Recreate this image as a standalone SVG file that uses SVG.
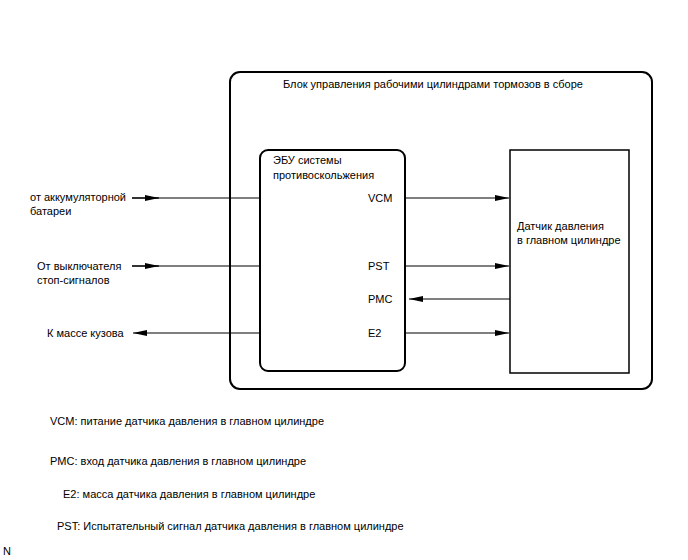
<svg xmlns="http://www.w3.org/2000/svg" width="688" height="560" viewBox="0 0 688 560">
<style>
text{font-family:"Liberation Sans",Arial,sans-serif;font-size:11px;fill:#000}
.box{fill:none;stroke:#000;stroke-width:2}
.ln{fill:none;stroke:#000;stroke-width:1.2}
</style>
<defs>
<marker id="ah" markerWidth="14" markerHeight="8" refX="14" refY="4" orient="auto" markerUnits="userSpaceOnUse">
<path d="M0,1 L14,4 L0,7 Z" fill="#000"/>
</marker>
</defs>
<rect width="688" height="560" fill="#fff"/>
<g id="assembly">
<rect class="box" x="230" y="72" width="422" height="317" rx="10"/>
<text x="283" y="88">Блок управления рабочими цилиндрами тормозов в сборе</text>
</g>
<g id="ecu">
<rect class="box" x="260" y="150" width="145" height="221" rx="8"/>
<text x="273" y="164">ЭБУ системы</text>
<text x="273" y="179">противоскольжения</text>
<text x="368" y="202">VCM</text>
<text x="368" y="270">PST</text>
<text x="368" y="303">PMC</text>
<text x="368" y="337">E2</text>
</g>
<g id="sensor">
<rect x="510" y="150" width="119" height="223" fill="none" stroke="#000" stroke-width="1.5"/>
<text x="517" y="230">Датчик давления</text>
<text x="517" y="244">в главном цилиндре</text>
</g>
<g id="inputs">
<text x="30" y="201">от аккумуляторной</text>
<text x="30" y="215">батареи</text>
<text x="37" y="270">От выключателя</text>
<text x="37" y="284">стоп-сигналов</text>
<text x="47" y="337">К массе кузова</text>
</g>
<g id="connectors">
<line class="ln" x1="132" y1="198" x2="260" y2="198"/>
<line class="ln" x1="132" y1="198" x2="159" y2="198" marker-end="url(#ah)"/>
<line class="ln" x1="132" y1="266" x2="260" y2="266"/>
<line class="ln" x1="132" y1="266" x2="159" y2="266" marker-end="url(#ah)"/>
<line class="ln" x1="260" y1="333" x2="133" y2="333" marker-end="url(#ah)"/>
<line class="ln" x1="405" y1="198" x2="509" y2="198" marker-end="url(#ah)"/>
<line class="ln" x1="405" y1="266" x2="509" y2="266" marker-end="url(#ah)"/>
<line class="ln" x1="510" y1="299" x2="409" y2="299" marker-end="url(#ah)"/>
<line class="ln" x1="405" y1="333" x2="509" y2="333" marker-end="url(#ah)"/>
</g>
<g id="legend">
<text x="50" y="425">VCM: питание датчика давления в главном цилиндре</text>
<text x="50" y="465">PMC: вход датчика давления в главном цилиндре</text>
<text x="63" y="498">E2: масса датчика давления в главном цилиндре</text>
<text x="57" y="530">PST: Испытательный сигнал датчика давления в главном цилиндре</text>
<text x="3" y="555">N</text>
</g>
</svg>
